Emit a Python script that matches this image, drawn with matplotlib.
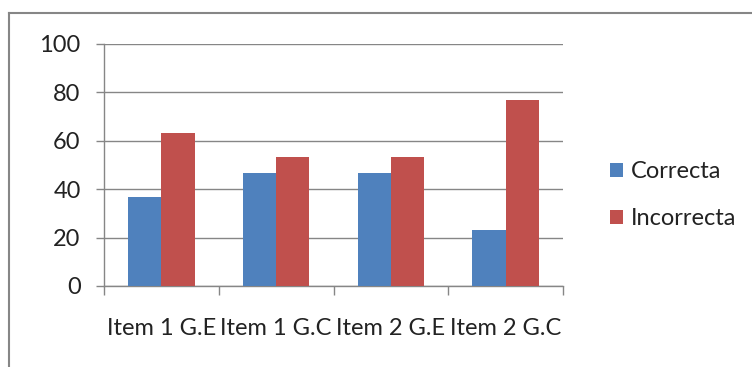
import numpy as np
import matplotlib.pyplot as plt
from matplotlib.lines import Line2D

categories = ["Item 1 G.E", "Item 1 G.C", "Item 2 G.E", "Item 2 G.C"]
correcta = [36.7, 46.7, 46.7, 23.3]
incorrecta = [63.3, 53.3, 53.3, 76.7]

blue = "#4F81BD"
red = "#C0504D"
grey = "#868686"

plt.rcParams["font.family"] = ["Lato", "DejaVu Sans"]
plt.rcParams["font.size"] = 17

fig = plt.figure(figsize=(7.52, 3.67), dpi=100)
ax = fig.add_axes([104 / 752, 1 - 286 / 367, (563 - 104) / 752, (286 - 44) / 367])

x = np.arange(len(categories))
w = 0.29
ax.bar(x - w / 2, correcta, w, color=blue, label="Correcta", zorder=3)
ax.bar(x + w / 2, incorrecta, w, color=red, label="Incorrecta", zorder=3)

ax.set_xlim(-0.5, len(categories) - 0.5)
ax.set_ylim(0, 100)
ax.set_yticks(range(0, 101, 20))
ax.yaxis.grid(True, color=grey, linewidth=1, zorder=0)

ax.set_xticks(x)
ax.set_xticklabels(categories)
ax.set_xticks(np.arange(-0.5, len(categories)), minor=True)
ax.tick_params(axis="x", which="major", length=0, pad=23, colors="#222222")
ax.tick_params(axis="x", which="minor", length=6.5, color=grey, width=1)
ax.tick_params(axis="y", length=5.8, color=grey, width=1, pad=11, colors="#222222")
ax.tick_params(axis="y", color=grey)

for s in ["top", "right"]:
    ax.spines[s].set_visible(False)
for s in ["left", "bottom"]:
    ax.spines[s].set_color(grey)
    ax.spines[s].set_linewidth(1)

leg = fig.legend(loc="center left", bbox_to_anchor=(598 / 752, 1 - 195 / 367),
                 frameon=False, handlelength=0.55, handleheight=0.55,
                 handletextpad=0.35, labelspacing=1.1, borderpad=0)
for t in leg.get_texts():
    t.set_color("#222222")

# chart frame (top and left edges only)
fig.add_artist(Line2D([9 / 752, 1], [1 - 13 / 367] * 2, color=grey, lw=1.5))
fig.add_artist(Line2D([9 / 752] * 2, [0, 1 - 13 / 367], color=grey, lw=1.5))

fig.savefig("out.png", dpi=100)
